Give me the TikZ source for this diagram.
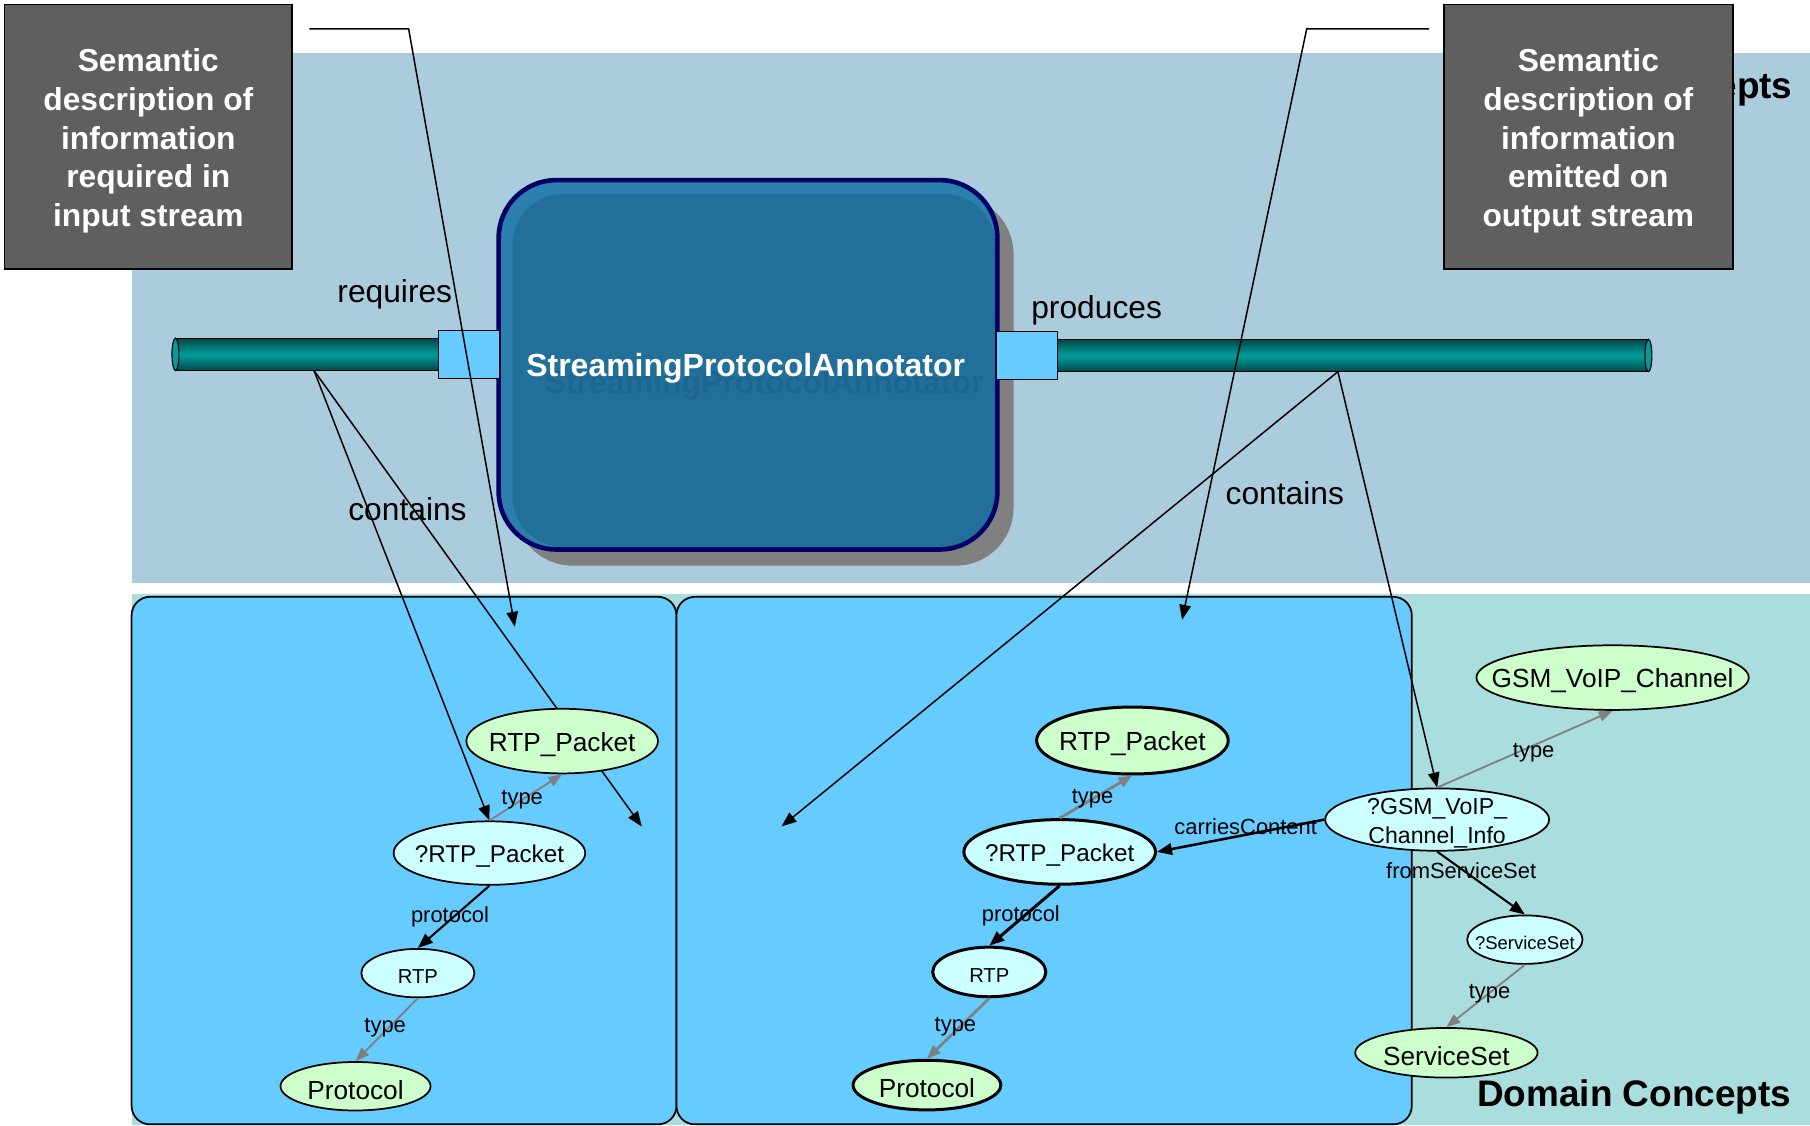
\documentclass[tikz,border=0pt]{standalone}
\usepackage{fontspec}
\setmainfont{Liberation Sans}
\usetikzlibrary{shapes.geometric,arrows.meta}
\definecolor{bandtop}{HTML}{ABCCDD}
\definecolor{bandbot}{HTML}{AADDDD}
\definecolor{innerbl}{HTML}{66CCFF}
\definecolor{clsg}{HTML}{CCFFCC}
\definecolor{varc}{HTML}{CCFFFF}
\definecolor{boxgray}{HTML}{5F5F5F}
\definecolor{compl}{HTML}{2A7FAE}
\definecolor{compd}{HTML}{22709A}
\definecolor{compb}{HTML}{000066}
\definecolor{ghostc}{HTML}{1C6791}
\definecolor{pipemid}{HTML}{009C9C}
\definecolor{pipedk}{HTML}{004848}
\definecolor{shadowg}{HTML}{808080}
\newcommand\myfs[2]{\fontsize{#1}{#2}\selectfont}
\pgfdeclarelayer{bglayer}
\pgfdeclarelayer{linelayer}
\pgfsetlayers{bglayer,linelayer,main}
\tikzset{
  darkbox/.style={draw=black, line width=1.5pt, fill=boxgray},
  darktext/.style={text=white, font=\bfseries\myfs{27.5}{33.5}, align=center, inner sep=0pt},
  ell/.style 2 args={ellipse, minimum width=#1pt, minimum height=#2pt,
    inner sep=0pt, draw=black, line width=1.5pt},
  ntext/.style={inner sep=0pt, font=\myfs{22.7}{25}, align=center, yshift=-3pt},
  clsnode/.style={fill=clsg},
  varnode/.style={fill=varc},
  thick2/.style={line width=2.6pt},
  bigtxt/.style={font=\myfs{27.5}{30}, inner sep=0pt},
  elabel/.style={font=\myfs{19}{20}, inner sep=0pt},
  cont/.style={line width=1.3pt, -{Triangle[length=13pt,width=10pt]}},
  callout/.style={line width=1.3pt, -{Triangle[length=13pt,width=10pt]}},
  graye/.style={draw=gray, line width=1.6pt, -{Triangle[length=12pt,width=9pt]}},
  blacke/.style={draw=black, line width=1.8pt, -{Triangle[length=13pt,width=10pt]}},
  port/.style={draw=black, line width=1pt, fill=innerbl},
  title/.style={font=\bfseries\myfs{32}{34}, inner sep=0pt, anchor=east}
}
\begin{document}
\begin{tikzpicture}[x=1pt,y=-1pt]
\useasboundingbox (0,0) rectangle (1568,975);
\begin{pgfonlayer}{bglayer}
\fill[white] (0,0) rectangle (1568,975);
% bands
\fill[bandtop] (114,46) rectangle (1568,505);
\fill[bandbot] (114,515) rectangle (1568,975);
\node[title] (svc) at (1553,77) {Service Concepts};
\node[title] (dom) at (1552,950) {Domain Concepts};
% inner boxes
\draw[fill=innerbl, line width=1.5pt, rounded corners=16pt] (114,517) rectangle (586,974);
\draw[fill=innerbl, line width=1.5pt, rounded corners=16pt] (586,517) rectangle (1223,974);
% component box
\fill[shadowg, rounded corners=50pt] (446,170) rectangle (878,490);
\fill[compl, rounded corners=50pt] (432,156) rectangle (864,476);
\fill[compd, rounded corners=44pt] (444,168) rectangle (862,474);
\draw[compb, line width=4pt, rounded corners=50pt] (432,156) rectangle (864,476);
\node[font=\bfseries\myfs{27.7}{30}, text=ghostc, inner sep=0pt] (ghost) at (662,334) {StreamingProtocolAnnotator};
\node[font=\bfseries\myfs{27.7}{30}, text=white, inner sep=0pt] (comp) at (646,319) {StreamingProtocolAnnotator};
% pipes
\shade[top color=pipedk, bottom color=pipedk, middle color=pipemid] (152,293) rectangle (380,321);
\draw[line width=1.2pt] (152,293) -- (380,293) (152,321) -- (380,321);
\draw[fill=pipemid, line width=1pt] (152,307) ellipse [x radius=3, y radius=14];
\shade[top color=pipedk, bottom color=pipedk, middle color=pipemid] (916,294) rectangle (1428,322);
\draw[line width=1.2pt] (916,294) -- (1428,294) (916,322) -- (1428,322);
\draw[fill=pipemid, line width=1pt] (1428,308) ellipse [x radius=3, y radius=14];
\draw[port] (380,286) rectangle (433,328);
\draw[port] (863,287) rectangle (916,329);
% explanation boxes
\draw[darkbox] (4,4) rectangle (253,233);
\node[darktext] (lbox) at (128.5,122)
  {Semantic\\description of\\information\\required in\\input stream};
\draw[darkbox] (1251,4) rectangle (1501,233);
\node[darktext] (rbox) at (1376,122)
  {Semantic\\description of\\information\\emitted on\\output stream};
\end{pgfonlayer}

% nodes: left group
\node[ell={166}{56}, clsnode, label={[ntext]center:RTP\_Packet}] (lc) at (487,642) {};
\node[ell={166}{55}, varnode, label={[ntext, font=\myfs{21}{24}]center:?RTP\_Packet}] (lq) at (424,739) {};
\node[ell={98}{42}, varnode, label={[ntext, font=\myfs{17.5}{20}]center:RTP}] (lr) at (362,843) {};
\node[ell={130}{42}, clsnode, label={[ntext]center:Protocol}] (lpr) at (308,941) {};
% nodes: right group
\node[ell={166}{58}, clsnode, thick2, label={[ntext]center:RTP\_Packet}] (rc) at (981,641.5) {};
\node[ell={166}{56}, varnode, thick2, label={[ntext, font=\myfs{21}{24}]center:?RTP\_Packet}] (rq) at (918,738) {};
\node[ell={98}{43}, varnode, thick2, label={[ntext, font=\myfs{17.5}{20}]center:RTP}] (rr) at (857,842) {};
\node[ell={128}{43}, clsnode, thick2, label={[ntext]center:Protocol}] (rpr) at (803,940) {};
\node[ell={236}{56}, clsnode, label={[ntext]center:GSM\_VoIP\_Channel}] (rgc) at (1397,587) {};
\node[ell={194}{54}, varnode, label={[ntext, font=\myfs{20}{25}]center:{?GSM\_VoIP\_\\Channel\_Info}}] (rgi) at (1245,710) {};
\node[ell={100}{42}, varnode, label={[ntext, font=\myfs{16}{18}]center:?ServiceSet}] (rss) at (1321,814) {};
\node[ell={158}{43}, clsnode, label={[ntext]center:ServiceSet}] (rs) at (1253,912) {};

% labels
\node[bigtxt] (req) at (342,255) {requires};
\node[bigtxt] (prod) at (950,269) {produces};
\node[bigtxt] (lcont) at (353,441) {contains};
\node[bigtxt] (rcont) at (1113,427) {contains};

\begin{pgfonlayer}{linelayer}
% callouts
\coordinate (lk1) at (268,25);
\coordinate (lk2) at (354,25);
\coordinate (lk3) at (446,543);
\draw[callout] (lk1) -- (lk2) -- (lk3);
\coordinate (rk1) at (1238,25);
\coordinate (rk2) at (1132,25);
\coordinate (rk3) at (1024,537);
\draw[callout] (rk1) -- (rk2) -- (rk3);
% contains
\coordinate (lpipe) at (272,321);
\coordinate (lend) at (556,716);
\draw[cont] (lpipe) -- (lq.north);
\draw[cont] (lpipe) -- (lend);
\coordinate (rpipe) at (1159,322);
\coordinate (rend) at (677,716);
\draw[cont] (rpipe) -- (rend);
\draw[cont] (rpipe) -- (rgi.north);
\end{pgfonlayer}

% edges: left
\draw[graye] (lq.north) -- node[elabel, pos=0.45] {type} (lc.south);
\draw[blacke] (lq.south) -- node[elabel, pos=0.47, xshift=-5pt, yshift=-2pt] {protocol} (lr.north);
\draw[graye] (lr.south) -- node[elabel, pos=0.45, xshift=-4pt, yshift=-1pt] {type} (lpr.north);
% edges: right
\draw[graye, line width=2.4pt] (rq.north) -- node[elabel, pos=0.5, xshift=-3pt, yshift=-2pt] {type} (rc.south);
\draw[blacke, line width=2.6pt] (rq.south) -- node[elabel, pos=0.47, xshift=-5pt, yshift=-2pt] {protocol} (rr.north);
\draw[graye, line width=2.4pt] (rr.south) -- node[elabel, pos=0.45, xshift=-5pt, yshift=-1pt] {type} (rpr.north);
\draw[blacke, line width=2.2pt] (rgi.west) -- node[elabel, pos=0.47, yshift=7pt] {carriesContent} (rq.east);
\draw[graye] (rgi.north) -- node[elabel, pos=0.55, yshift=-6pt] {type} (rgc.south);
\draw[blacke] (rgi.south) -- node[elabel, pos=0.3, xshift=-2pt] {fromServiceSet} (rss.north);
\draw[graye] (rss.south) -- node[elabel, pos=0.45, yshift=-1pt] {type} (rs.north);
\end{tikzpicture}
\end{document}
